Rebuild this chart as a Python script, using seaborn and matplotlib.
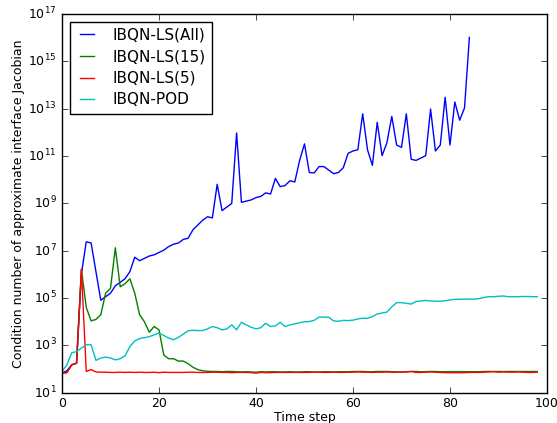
import matplotlib
matplotlib.use("Agg")
import matplotlib.pyplot as plt
import numpy as np
import pandas as pd
import seaborn as sns

# condition numbers, stored as log10 exponents
steps_all = list(range(0, 85))
log_cond_all = [
    1.82, 1.92, 2.17, 2.24, 6.01, 7.37, 7.32, 6.11, 4.90, 5.05,
    5.20, 5.51, 5.66, 5.81, 6.11, 6.72, 6.57, 6.67, 6.77, 6.82,
    6.92, 7.02, 7.17, 7.27, 7.32, 7.47, 7.52, 7.88, 8.08, 8.28,
    8.43, 8.38, 9.80, 8.69, 8.84, 8.99, 11.97, 9.04, 9.09, 9.14,
    9.24, 9.29, 9.44, 9.39, 10.05, 9.70, 9.75, 9.95, 9.90, 10.81,
    11.51, 10.30, 10.28, 10.55, 10.55, 10.40, 10.25, 10.30, 10.50, 11.11,
    11.21, 11.26, 12.78, 11.26, 10.60, 12.42, 11.01, 11.56, 12.67, 11.46,
    11.36, 12.78, 10.86, 10.81, 10.91, 11.01, 12.98, 11.21, 11.46, 13.48,
    11.46, 13.28, 12.51, 13.03, 16.01,
]

steps = list(range(0, 99))
log_cond_15 = [
    1.82, 1.84, 2.17, 2.24, 6.21, 4.60, 4.03, 4.09, 4.29, 5.20,
    5.40, 7.12, 5.47, 5.60, 5.81, 5.20, 4.29, 3.99, 3.55, 3.79,
    3.65, 2.58, 2.43, 2.43, 2.33, 2.33, 2.22, 2.07, 1.97, 1.92,
    1.90, 1.89, 1.89, 1.88, 1.89, 1.89, 1.88, 1.87, 1.88, 1.87,
    1.86, 1.88, 1.87, 1.88, 1.88, 1.87, 1.87, 1.88, 1.87, 1.87,
    1.88, 1.88, 1.87, 1.87, 1.88, 1.88, 1.87, 1.88, 1.88, 1.88,
    1.89, 1.89, 1.89, 1.88, 1.88, 1.89, 1.89, 1.89, 1.88, 1.87,
    1.87, 1.88, 1.89, 1.89, 1.88, 1.88, 1.89, 1.89, 1.88, 1.88,
    1.88, 1.88, 1.88, 1.88, 1.88, 1.88, 1.88, 1.89, 1.89, 1.89,
    1.89, 1.89, 1.89, 1.89, 1.89, 1.89, 1.89, 1.89, 1.89,
]
log_cond_5 = [
    1.82, 1.84, 2.17, 2.24, 6.21, 1.89, 1.97, 1.87, 1.86, 1.86,
    1.85, 1.85, 1.86, 1.85, 1.86, 1.85, 1.86, 1.85, 1.85, 1.86,
    1.84, 1.86, 1.85, 1.85, 1.85, 1.85, 1.86, 1.86, 1.85, 1.85,
    1.85, 1.86, 1.86, 1.85, 1.85, 1.84, 1.85, 1.85, 1.85, 1.84,
    1.82, 1.85, 1.84, 1.84, 1.85, 1.85, 1.85, 1.85, 1.85, 1.85,
    1.85, 1.85, 1.86, 1.86, 1.85, 1.85, 1.86, 1.85, 1.85, 1.86,
    1.86, 1.87, 1.86, 1.86, 1.85, 1.86, 1.86, 1.87, 1.86, 1.86,
    1.86, 1.87, 1.89, 1.85, 1.85, 1.86, 1.87, 1.86, 1.85, 1.84,
    1.84, 1.84, 1.84, 1.84, 1.85, 1.85, 1.85, 1.86, 1.87, 1.88,
    1.86, 1.87, 1.86, 1.86, 1.87, 1.86, 1.85, 1.85, 1.86,
]
log_cond_pod = [
    1.89, 2.17, 2.68, 2.73, 2.88, 3.02, 3.02, 2.36, 2.46, 2.50,
    2.46, 2.38, 2.43, 2.55, 2.94, 3.18, 3.28, 3.32, 3.36, 3.44,
    3.51, 3.41, 3.30, 3.23, 3.33, 3.47, 3.61, 3.63, 3.62, 3.62,
    3.69, 3.79, 3.74, 3.65, 3.69, 3.86, 3.65, 3.97, 3.86, 3.76,
    3.69, 3.74, 3.93, 3.79, 3.82, 3.97, 3.79, 3.86, 3.90, 3.95,
    3.99, 4.00, 4.05, 4.19, 4.19, 4.18, 4.03, 4.01, 4.05, 4.04,
    4.06, 4.11, 4.14, 4.14, 4.21, 4.32, 4.36, 4.40, 4.62, 4.80,
    4.80, 4.77, 4.74, 4.85, 4.87, 4.89, 4.87, 4.86, 4.86, 4.88,
    4.91, 4.94, 4.94, 4.95, 4.95, 4.95, 4.97, 5.02, 5.05, 5.05,
    5.07, 5.08, 5.05, 5.05, 5.05, 5.06, 5.06, 5.05, 5.05,
]

labels = ["IBQN-LS(All)", "IBQN-LS(15)", "IBQN-LS(5)", "IBQN-POD"]
colors = ["#0000ff", "#008000", "#ff0000", "#00bfbf"]

plt.style.use("classic")
plt.rcParams["font.family"] = ["DejaVu Sans"]

fig = plt.figure(figsize=(5.57, 4.23), dpi=100, facecolor="white")
ax = fig.add_axes([0.1113, 0.072, 0.8707, 0.895])

series = [
    (steps_all, log_cond_all),
    (steps, log_cond_15),
    (steps, log_cond_5),
    (steps, log_cond_pod),
]
for (xs, logs), lab, col in zip(series, labels, colors):
    df = pd.DataFrame({"step": xs, "cond": 10.0 ** np.array(logs)})
    sns.lineplot(data=df, x="step", y="cond", color=col, label=lab,
                 linewidth=1.0, ax=ax)

ax.set_yscale("log")
ax.set_xlim(0, 100)
ax.set_ylim(1e1, 1e17)
ax.set_xticks([0, 20, 40, 60, 80, 100])
ax.set_yticks([10.0 ** k for k in range(1, 18, 2)])
ax.set_xlabel("Time step", fontsize=9, labelpad=1)
ax.set_ylabel("Condition number of approximate interface Jacobian",
              fontsize=9, labelpad=2)
ax.tick_params(labelsize=9)
ax.tick_params(axis="x", pad=3)
ax.legend(loc="upper left", fontsize=11, labelspacing=0.43,
          handlelength=1.5, handletextpad=0.9)

fig.savefig("out.png", dpi=100, facecolor="white")
